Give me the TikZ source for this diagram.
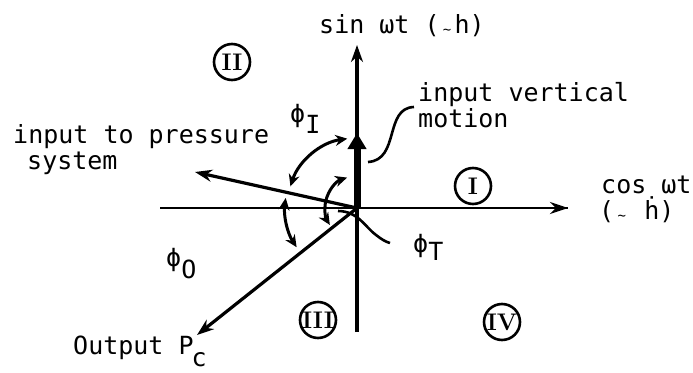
\documentclass[tikz,border=0pt]{standalone}
\usepackage{fontspec}
\setmonofont{DejaVu Sans Mono}
\usetikzlibrary{arrows.meta}
\begin{document}
\begin{tikzpicture}[x=1pt,y=-1pt,
  lbl/.style={font=\ttfamily\fontsize{25}{26}\selectfont, inner sep=0pt, anchor=base west},
  ax/.style={line width=2.8pt},
  vec/.style={line width=3.2pt, -{Stealth[length=17pt,width=12pt]}},
  ang/.style={line width=3pt, {Stealth[length=12pt,width=11pt]}-{Stealth[length=12pt,width=11pt]}},
  quad/.style={draw, circle, line width=2.6pt, minimum size=36pt, inner sep=0pt, font=\rmfamily\bfseries\fontsize{24}{24}\selectfont},
  lead/.style={line width=2.6pt}
]
\useasboundingbox (0,0) rectangle (693,372);
\coordinate (O) at (357,208);
\coordinate (ytop) at (357,45);
\coordinate (ybot) at (357,332);
\coordinate (xl) at (160,208);
\coordinate (xr) at (568,208);
\coordinate (vin) at (357,133);
\coordinate (pin) at (195,172);
\coordinate (pout) at (197,335);
% axes
\draw[ax] (xl) -- (xr);
\draw[ax, -{Stealth[length=18pt,width=12pt]}] (O) -- (xr);
\draw[line width=3.4pt] (ybot) -- (O);
\draw[line width=3.4pt, -{Stealth[length=17pt,width=12pt]}] (O) -- (ytop);
% input vertical motion
\draw[line width=7pt, -{Triangle[length=16pt,width=18pt]}] (O) -- (vin);
% vectors
\draw[vec] (O) -- (pin);
\draw[vec] (O) -- (pout);
% angle arcs
\draw[ang] ([shift={(-98:70)}]O) arc[start angle=-98, end angle=-162, radius=70];
\draw[ang] ([shift={(-172:72)}]O) arc[start angle=-172, end angle=-213, radius=72];
\draw[ang] ([shift={(-108:32)}]O) arc[start angle=-108, end angle=-212, radius=32];
% leaders
\coordinate (l1a) at (368,162);
\coordinate (l1b) at (414,107);
\draw[lead] (l1a) .. controls (400,160) and (384,108) .. (l1b);
\coordinate (l2a) at (338,211);
\coordinate (l2b) at (390,243);
\draw[lead] (l2a) .. controls (358,211) and (366,228) .. (376,235) .. controls (381,239) and (386,242) .. (l2b);
% quadrant markers
\node[quad] (q2) at (232,62) {II};
\node[quad] (q1) at (473,186) {I};
\node[quad] (q3) at (318,320) {III};
\node[quad] (q4) at (502,322) {IV};
% labels
\node[lbl] (sinlbl) at (319,33) {sin ωt (\makebox[0.602em]{\fontsize{14}{14}\selectfont\raisebox{-1pt}{\textasciitilde}}h)};
\node[lbl] (ivm1) at (418,101) {input vertical};
\node[lbl] (ivm2) at (418,127) {motion};
\node[lbl] (ips1) at (13,143) {input to pressure};
\node[lbl] (ips2) at (27,169) {system};
\node[lbl] (cos1) at (601,193) {cos ωt};
\node[lbl] (cos2) at (599,219) {(\makebox[0.602em]{\fontsize{14}{14}\selectfont\raisebox{-1pt}{\textasciitilde}} ḣ)};
\node[lbl] (phiI) at (290,122) {ϕ\raisebox{-11pt}{I}};
\node[lbl] (phiT) at (413,252) {ϕ\raisebox{-8pt}{T}};
\node[lbl] (phiO) at (166,266) {ϕ\raisebox{-12pt}{O}};
\node[lbl] (outl) at (73,354) {Output P\kern-2pt\raisebox{-12pt}{c}};
\end{tikzpicture}
\end{document}
